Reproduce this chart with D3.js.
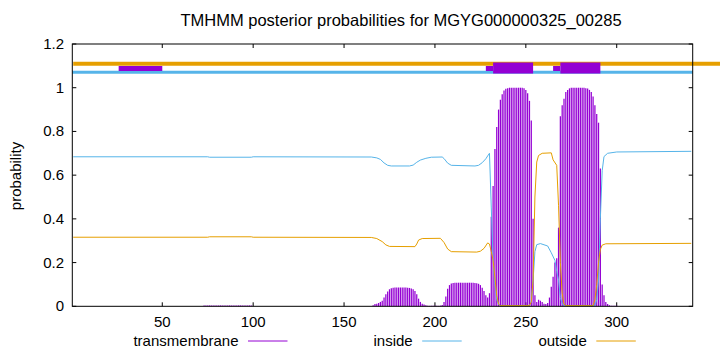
<!DOCTYPE html>
<html>
<head>
<meta charset="utf-8">
<script src="https://cdn.jsdelivr.net/npm/d3@7"></script>
<style>
  body { margin: 0; background: #fff; }
  text { font-family: "Liberation Sans", Arial, sans-serif; fill: #000; }
</style>
</head>
<body>
<div class="chart"></div>
<script>
// chart data
var titleText = "TMHMM posterior probabilities for MGYG000000325_00285";
var xTicks = [50, 100, 150, 200, 250, 300];
var yTicks = [0, 0.2, 0.4, 0.6, 0.8, 1, 1.2];

// transmembrane posterior (impulses), two runs of residues
var tmLowStart = 73;
var tmLow = [0.004, 0.004, 0.004, 0.004, 0.004, 0.004, 0.004, 0.004, 0.004, 0.004,
  0.004, 0.004, 0.004, 0.004, 0.004, 0.004, 0.004, 0.004, 0.004, 0.004,
  0.004, 0.004, 0.004, 0.004, 0.004, 0.004, 0.004];
var tmStart = 166;
var tmValues = [
  0.005, 0.01, 0.012, 0.015, 0.02, 0.025, 0.04, 0.055, 0.068, 0.078,   // 166-175
  0.083, 0.085, 0.086, 0.086, 0.086, 0.086, 0.086, 0.086, 0.086, 0.085, // 176-185
  0.084, 0.082, 0.078, 0.07, 0.055, 0.035, 0.02, 0.012, 0.008, 0.005,  // 186-195
  0.003, 0.002, 0.002, 0.002, 0.002, 0.002, 0.002, 0.003, 0.006, 0.02, // 196-205
  0.045, 0.08, 0.097, 0.104, 0.107, 0.108, 0.108, 0.108, 0.108, 0.108, // 206-215
  0.108, 0.108, 0.108, 0.108, 0.108, 0.108, 0.107, 0.106, 0.103, 0.097, // 216-225
  0.085, 0.07, 0.05, 0.04, 0.06, 0.41, 0.55, 0.72, 0.82, 0.9,          // 226-235
  0.945, 0.97, 0.987, 0.995, 0.998, 1, 1, 1, 1, 1,                     // 236-245
  1, 1, 1, 0.998, 0.99, 0.975, 0.94, 0.85, 0.4, 0.05,                  // 246-255
  0.02, 0.03, 0.025, 0.02, 0.012, 0.01, 0.015, 0.04, 0.09, 0.135,      // 256-265
  0.2, 0.22, 0.36, 0.87, 0.92, 0.95, 0.98, 0.99, 0.997, 1,             // 266-275
  1, 1, 1, 1, 1, 1, 1, 0.998, 0.996, 0.99,                             // 276-285
  0.98, 0.96, 0.92, 0.88, 0.84, 0.63, 0.1, 0.05, 0.02, 0.01,           // 286-295
  0.005, 0.003, 0.002, 0.002, 0.002                                    // 296-300
];

// inside / outside posterior: [residue, probability]
var insidePts = [[1, 0.684], [75, 0.684], [76, 0.682], [99, 0.682], [100, 0.684], [165, 0.683],
  [168, 0.679], [170, 0.672], [172, 0.656], [174, 0.645], [176, 0.642], [186, 0.642],
  [188, 0.646], [190, 0.659], [192, 0.669], [195, 0.677], [198, 0.682], [204, 0.683],
  [205, 0.676], [207, 0.655], [209, 0.645], [222, 0.642], [224, 0.645], [226, 0.657],
  [228, 0.675], [229, 0.688], [230, 0.70], [231, 0.45], [232, 0.21], [233, 0.1],
  [234, 0.03], [235, 0.008], [236, 0.003], [252, 0.003], [253, 0.02], [254, 0.12],
  [255, 0.25], [256, 0.282], [258, 0.287], [262, 0.276], [264, 0.245], [266, 0.21],
  [267, 0.16], [268, 0.12], [269, 0.04], [270, 0.01], [271, 0.003], [288, 0.003],
  [289, 0.03], [290, 0.12], [291, 0.4], [292, 0.62], [293, 0.685], [295, 0.70],
  [300, 0.706], [341, 0.709]];
var outsidePts = [[1, 0.316], [75, 0.316], [76, 0.318], [99, 0.318], [100, 0.316], [165, 0.315],
  [168, 0.31], [171, 0.296], [173, 0.281], [175, 0.274], [189, 0.273], [190, 0.285],
  [191, 0.303], [193, 0.31], [203, 0.311], [205, 0.292], [207, 0.262], [209, 0.25],
  [223, 0.248], [225, 0.252], [227, 0.265], [229, 0.29], [230, 0.285], [231, 0.25],
  [232, 0.21], [233, 0.13], [234, 0.05], [235, 0.01], [236, 0.003], [252, 0.003],
  [253, 0.02], [254, 0.12], [255, 0.5], [256, 0.66], [257, 0.69], [259, 0.70],
  [264, 0.702], [265, 0.67], [267, 0.645], [268, 0.46], [269, 0.2], [270, 0.06],
  [271, 0.01], [272, 0.003], [287, 0.003], [288, 0.03], [289, 0.1], [290, 0.2],
  [291, 0.26], [292, 0.28], [294, 0.286], [341, 0.288]];

// predicted topology bars across the top: [from, to]
var outsideSegs = [[1, 357]];
var insideSegs = [[0.5, 341.8]];
var tmThinSegs = [[26, 50], [228, 232], [265, 269]];
var tmThickSegs = [[232, 254], [269, 291]];

var legendNames = ["transmembrane", "inside", "outside"];

var colTM = "#9400d3", colIn = "#56b4e9", colOut = "#e69f00";

var svgWidth = 720, svgHeight = 352;
var svg = d3.select(".chart").append("svg")
  .attr("width", svgWidth)
  .attr("height", svgHeight);

var plotL = 72.3, plotR = 692.7, plotT = 44, plotB = 306.3;

var x = d3.scaleLinear().domain([0.5, 341.8]).range([plotL, plotR]);
var y = d3.scaleLinear().domain([0, 1.2]).range([plotB, plotT]);

// title
svg.append("text")
  .attr("x", 401).attr("y", 26)
  .attr("text-anchor", "middle")
  .style("font-size", "16.5px")
  .text(titleText);

// y label
svg.append("text")
  .attr("transform", "translate(21,176) rotate(-90)")
  .attr("text-anchor", "middle")
  .style("font-size", "15px")
  .text("probability");

// axes (ticks inward, mirrored)
var tickLen = 4;
var axisG = svg.append("g").attr("stroke", "#000").attr("stroke-width", 1);
yTicks.forEach(function (t) {
  axisG.append("line").attr("x1", plotL).attr("x2", plotL + tickLen)
    .attr("y1", y(t)).attr("y2", y(t));
  axisG.append("line").attr("x1", plotR).attr("x2", plotR - tickLen)
    .attr("y1", y(t)).attr("y2", y(t));
});
xTicks.forEach(function (t) {
  axisG.append("line").attr("x1", x(t)).attr("x2", x(t))
    .attr("y1", plotB).attr("y2", plotB - tickLen);
  axisG.append("line").attr("x1", x(t)).attr("x2", x(t))
    .attr("y1", plotT).attr("y2", plotT + tickLen);
});

svg.selectAll(".ylab").data(yTicks).enter().append("text")
  .attr("class", "ylab")
  .attr("x", 64).attr("y", d => y(d) + 5)
  .attr("text-anchor", "end")
  .style("font-size", "15px")
  .text(d => d3.format("~g")(d));

svg.selectAll(".xlab").data(xTicks).enter().append("text")
  .attr("class", "xlab")
  .attr("x", d => x(d)).attr("y", plotB + 21)
  .attr("text-anchor", "middle")
  .style("font-size", "15px")
  .text(d => d);

// transmembrane impulses
var tmData = tmLow.map((v, i) => [tmLowStart + i, v])
  .concat(tmValues.map((v, i) => [tmStart + i, v]));
svg.append("g").selectAll("line").data(tmData).enter().append("line")
  .attr("x1", d => x(d[0])).attr("x2", d => x(d[0]))
  .attr("y1", y(0)).attr("y2", d => y(d[1]))
  .attr("stroke", colTM)
  .attr("stroke-width", 1.25);

// inside / outside curves
var line = d3.line().x(d => x(d[0])).y(d => y(d[1]));
svg.append("path").datum(insidePts)
  .attr("d", line).attr("fill", "none")
  .attr("stroke", colIn).attr("stroke-width", 1);
svg.append("path").datum(outsidePts)
  .attr("d", line).attr("fill", "none")
  .attr("stroke", colOut).attr("stroke-width", 1);

// topology bars
function bars(segs, level, width, color) {
  svg.append("g").selectAll("line").data(segs).enter().append("line")
    .attr("x1", d => x(d[0])).attr("x2", d => x(d[1]))
    .attr("y1", y(level)).attr("y2", y(level))
    .attr("stroke", color).attr("stroke-width", width);
}
bars(outsideSegs, 1.11, 4, colOut);
bars(insideSegs, 1.071, 3, colIn);
bars(tmThinSegs, 1.088, 5, colTM);
bars(tmThickSegs, 1.09, 11, colTM);

// border
svg.append("rect")
  .attr("x", plotL).attr("y", plotT)
  .attr("width", plotR - plotL).attr("height", plotB - plotT)
  .attr("fill", "none").attr("stroke", "#000").attr("stroke-width", 1);

// legend
var legendTextRight = [238.5, 412.7, 586.8];
var legendCols = [colTM, colIn, colOut];
var legY = 346;
legendNames.forEach(function (name, i) {
  svg.append("text")
    .attr("x", legendTextRight[i]).attr("y", legY)
    .attr("text-anchor", "end")
    .style("font-size", "15px")
    .text(name);
  svg.append("line")
    .attr("x1", legendTextRight[i] + 9.5).attr("x2", legendTextRight[i] + 49)
    .attr("y1", legY - 5).attr("y2", legY - 5)
    .attr("stroke", legendCols[i]).attr("stroke-width", 1);
});
</script>
</body>
</html>
